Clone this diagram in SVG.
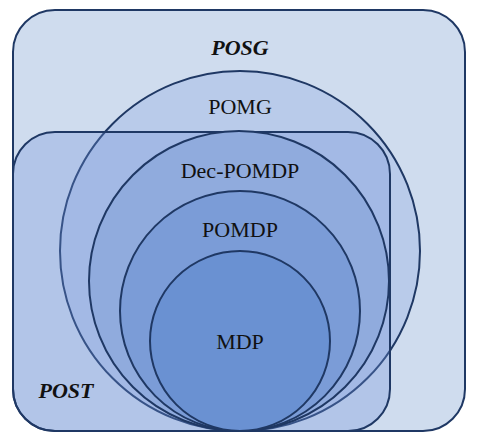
<svg xmlns="http://www.w3.org/2000/svg" width="480" height="443" viewBox="0 0 480 443">
<style>
.s{stroke:#1f3864;stroke-width:2}
.t{font-family:"Liberation Serif","Times New Roman",serif;font-size:22px;fill:#111;text-anchor:middle}
.b{font-weight:bold;font-style:italic}
</style>
<rect width="480" height="443" fill="#ffffff"/>
<g id="posg">
<rect class="s" x="13" y="10" width="452" height="421" rx="42" fill="#cfdcee"/>
<text class="t b" x="240" y="55">POSG</text>
</g>
<g id="pomg">
<circle class="s" cx="240" cy="251" r="180" fill="#b9cbea"/>
<text class="t" x="240" y="114">POMG</text>
</g>
<g id="post">
<rect class="s" x="13" y="132" width="377" height="299" rx="42" fill="rgb(113,147,218)" fill-opacity="0.3"/>
<text class="t b" x="66" y="398">POST</text>
</g>
<g id="decpomdp">
<circle class="s" cx="239" cy="281" r="150" fill="#90abdd"/>
<text class="t" x="240" y="178">Dec-POMDP</text>
</g>
<g id="pomdp">
<circle class="s" cx="240" cy="311" r="120" fill="#7b9cd7"/>
<text class="t" x="240" y="237">POMDP</text>
</g>
<g id="mdp">
<circle class="s" cx="240" cy="341" r="90" fill="#6a91d2"/>
<text class="t" x="240" y="349">MDP</text>
</g>
<g id="connectors"/>
</svg>
